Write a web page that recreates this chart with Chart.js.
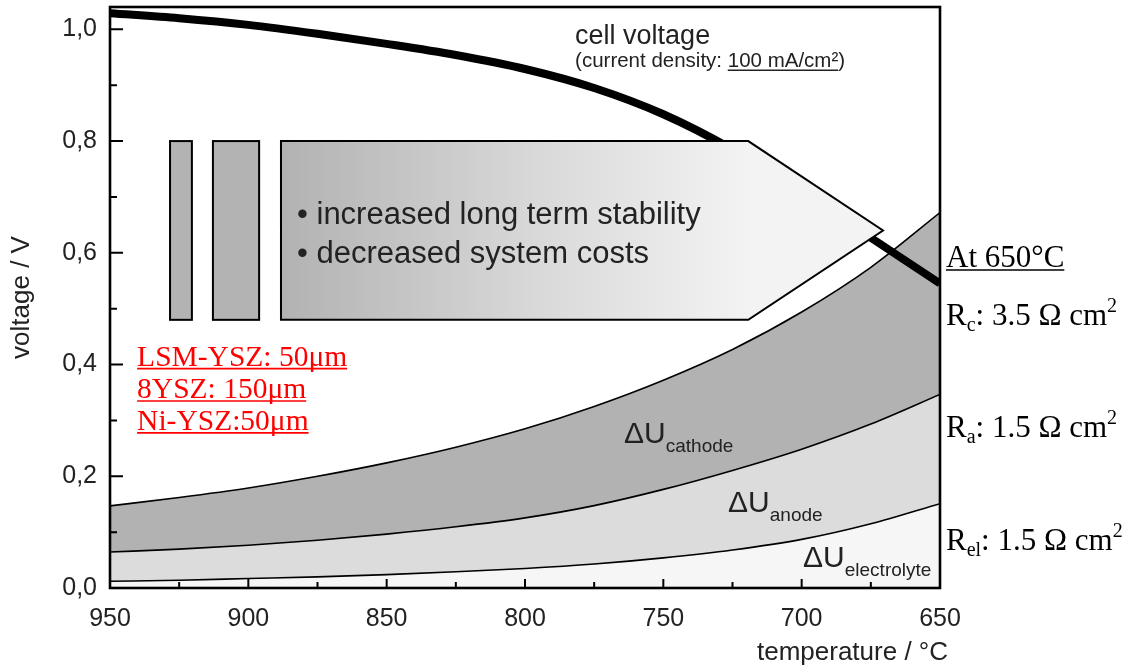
<!DOCTYPE html>
<html>
<head>
<meta charset="utf-8">
<script src="https://cdn.jsdelivr.net/npm/chart.js@4.4.1/dist/chart.umd.min.js"></script>
<style>
  html, body { margin: 0; padding: 0; background: #fff; }
  #wrap { width: 1133px; height: 668px; }
</style>
</head>
<body>
<div id="wrap"><canvas id="chart" width="1133" height="668"></canvas></div>
<script>
// --- data (temperature in °C, voltage in V) ---
const temps = [950, 925, 900, 875, 850, 825, 800, 775, 750, 725, 700, 675, 650];
const cellVoltage = [1.029, 1.020, 1.008, 0.992, 0.974, 0.954, 0.929, 0.895, 0.848, 0.785, 0.708, 0.627, 0.545];
const cathodeTop = [0.147, 0.162, 0.179, 0.200, 0.224, 0.252, 0.285, 0.325, 0.372, 0.427, 0.494, 0.574, 0.672];
const anodeTop = [0.0645, 0.0695, 0.0765, 0.0855, 0.0965, 0.1095, 0.1255, 0.1475, 0.1765, 0.2105, 0.2485, 0.2935, 0.3465];
const electrolyteTop = [0.012, 0.014, 0.017, 0.020, 0.024, 0.029, 0.035, 0.043, 0.054, 0.068, 0.087, 0.115, 0.151];

const xTicks = [950, 900, 850, 800, 750, 700, 650];
const yTicks = [0, 0.2, 0.4, 0.6, 0.8, 1.0];

const SANS = '"Liberation Sans", Arial, sans-serif';
const SERIF = '"Liberation Serif", "Times New Roman", serif';
const INK = '#222';

const toXY = (arr) => temps.map((t, i) => ({ x: t, y: arr[i] }));

// helper: data -> pixel
function px(chart, t, v) {
    return [chart.scales.x.getPixelForValue(t), chart.scales.y.getPixelForValue(v)];
}

// write a run of text pieces [text, font, dy] one after another
function richText(ctx, x, y, parts) {
    let cx = x;
    for (const [s, font, dy] of parts) {
        ctx.font = font;
        ctx.fillText(s, cx, y + (dy || 0));
        cx += ctx.measureText(s).width;
    }
    return cx;
}

function underline(ctx, x0, x1, y, w) {
    ctx.save();
    ctx.lineWidth = w || 1.5;
    ctx.strokeStyle = ctx.fillStyle;
    ctx.beginPath();
    ctx.moveTo(x0, y);
    ctx.lineTo(x1, y);
    ctx.stroke();
    ctx.restore();
}

// --- arrow "roadmap" graphic, placed in data coordinates ---
const arrowPlugin = {
    id: 'roadmapArrow',
    afterDatasetsDraw(chart) {
        const ctx = chart.ctx;
        const top = 0.8, bottom = 0.48, mid = 0.64;
        ctx.save();
        ctx.lineWidth = 2;
        ctx.strokeStyle = '#000';
        ctx.fillStyle = '#b3b3b3';
        for (const [a, b] of [[928.3, 920.4], [912.8, 896.1]]) {
            const [x0, y0] = px(chart, a, top);
            const [x1, y1] = px(chart, b, bottom);
            ctx.fillRect(x0, y0, x1 - x0, y1 - y0);
            ctx.strokeRect(x0, y0, x1 - x0, y1 - y0);
        }
        const [ax0, ay0] = px(chart, 888.2, top);
        const [ax1, ay1] = px(chart, 719.3, bottom);
        const [tx, ty] = px(chart, 670.6, mid);
        const g = ctx.createLinearGradient(ax0, 0, ax1, 0);
        g.addColorStop(0, '#b2b2b2');
        g.addColorStop(0.55, '#d9d9d9');
        g.addColorStop(1, '#f3f3f3');
        ctx.fillStyle = g;
        ctx.beginPath();
        ctx.moveTo(ax0, ay0);
        ctx.lineTo(ax1, ay0);
        ctx.lineTo(tx, ty);
        ctx.lineTo(ax1, ay1);
        ctx.lineTo(ax0, ay1);
        ctx.closePath();
        ctx.fill();
        ctx.stroke();

        ctx.fillStyle = INK;
        ctx.textBaseline = 'alphabetic';
        ctx.font = '31px ' + SANS;
        let [bx, by] = px(chart, 882.4, 0.651);
        ctx.fillText('\u2022 increased long term stability', bx, by);
        [bx, by] = px(chart, 882.4, 0.581);
        ctx.fillText('\u2022 decreased system costs', bx, by);
        ctx.restore();
    }
};

// --- frame, inward ticks and labels ---
const framePlugin = {
    id: 'frameTicks',
    afterDraw(chart) {
        const ctx = chart.ctx;
        const a = chart.chartArea;
        const x = chart.scales.x, y = chart.scales.y;
        ctx.save();
        ctx.strokeStyle = '#000';
        ctx.lineWidth = 2;
        ctx.beginPath();
        for (let t = 650; t <= 950; t += 25) {
            const p = x.getPixelForValue(t);
            const len = t % 50 === 0 ? 9 : 6;
            ctx.moveTo(p, a.bottom);
            ctx.lineTo(p, a.bottom - len);
        }
        for (let i = 0; i <= 10; i++) {
            const p = y.getPixelForValue(i / 10);
            const len = i % 2 === 0 ? 13 : 7;
            ctx.moveTo(a.left, p);
            ctx.lineTo(a.left + len, p);
        }
        ctx.stroke();
        ctx.lineWidth = 2.6;
        ctx.strokeRect(a.left, a.top, a.right - a.left, a.bottom - a.top);

        // x axis title, right side under the axis
        ctx.fillStyle = INK;
        ctx.font = '26px ' + SANS;
        ctx.textAlign = 'right';
        ctx.textBaseline = 'middle';
        ctx.fillText('temperature / \u00B0C', a.right + 8, 653);

        // annotations inside the plot
        ctx.textAlign = 'left';
        ctx.textBaseline = 'alphabetic';
        let [cx, cy] = px(chart, 781.9, 0.973);
        ctx.font = '27px ' + SANS;
        ctx.fillText('cell voltage', cx, cy);
        [cx, cy] = px(chart, 781.9, 0.932);
        ctx.font = '20.5px ' + SANS;
        const pre = '(current density: ';
        ctx.fillText(pre, cx, cy);
        const ux = cx + ctx.measureText(pre).width;
        ctx.fillText('100 mA/cm\u00B2', ux, cy);
        const uw = ctx.measureText('100 mA/cm\u00B2').width;
        ctx.fillText(')', ux + uw, cy);
        underline(ctx, ux, ux + uw, cy + 3, 1.5);

        const subLabel = (t, v, sub) => {
            const [lx, ly] = px(chart, t, v);
            richText(ctx, lx, ly, [['\u0394U', '30px ' + SANS, 0], [sub, '19px ' + SANS, 9]]);
        };
        subLabel(764.2, 0.260, 'cathode');
        subLabel(726.6, 0.136, 'anode');
        subLabel(699.5, 0.038, 'electrolyte');

        // red layer thickness notes
        ctx.fillStyle = '#ff0000';
        ctx.font = '29.5px ' + SERIF;
        [['LSM-YSZ: 50\u03BCm', 0.398], ['8YSZ: 150\u03BCm', 0.340], ['Ni-YSZ:50\u03BCm', 0.283]].forEach(([s, v]) => {
            const [rx, ry] = px(chart, 940.2, v);
            ctx.fillText(s, rx, ry);
            underline(ctx, rx, rx + ctx.measureText(s).width, ry + 3, 1.6);
        });

        // resistances at 650 °C, right of the frame
        ctx.fillStyle = '#000';
        const rx = a.right + 6;
        const big = '31px ' + SERIF, small = '20px ' + SERIF;
        ctx.font = big;
        const head = 'At 650\u00B0C';
        ctx.fillText(head, rx, 267);
        underline(ctx, rx, rx + ctx.measureText(head).width, 270, 1.6);
        richText(ctx, rx, 325, [['R', big, 0], ['c', small, 6], [': 3.5 \u03A9 cm', big, 0], ['2', small, -13]]);
        richText(ctx, rx, 437, [['R', big, 0], ['a', small, 6], [': 1.5 \u03A9 cm', big, 0], ['2', small, -13]]);
        richText(ctx, rx, 550, [['R', big, 0], ['el', small, 6], [': 1.5 \u03A9 cm', big, 0], ['2', small, -13]]);
        ctx.restore();
    }
};

const lineOpts = {
    pointRadius: 0,
    cubicInterpolationMode: 'monotone'
};

const chart = new Chart(document.getElementById('chart'), {
    type: 'line',
    data: {
        datasets: [
            { label: 'cell voltage', data: toXY(cellVoltage), borderColor: '#000', borderWidth: 8, fill: false, ...lineOpts },
            { label: 'cathode', data: toXY(cathodeTop), borderColor: '#000', borderWidth: 1.6, backgroundColor: '#b2b2b2', fill: '+1', ...lineOpts },
            { label: 'anode', data: toXY(anodeTop), borderColor: '#000', borderWidth: 1.6, backgroundColor: '#dcdcdc', fill: '+1', ...lineOpts },
            { label: 'electrolyte', data: toXY(electrolyteTop), borderColor: '#000', borderWidth: 1.6, backgroundColor: '#f6f6f6', fill: 'origin', ...lineOpts }
        ]
    },
    options: {
        responsive: false,
        animation: false,
        layout: { padding: { left: 0, right: 193, top: 7, bottom: 0 } },
        plugins: {
            legend: { display: false },
            tooltip: { enabled: false },
            filler: { drawTime: 'beforeDatasetsDraw' }
        },
        scales: {
            x: {
                type: 'linear',
                reverse: true,
                min: 650,
                max: 950,
                afterBuildTicks: (s) => { s.ticks = xTicks.map(v => ({ value: v })); },
                afterFit: (s) => { s.height = 80; s.paddingLeft = 0; s.paddingRight = 0; },
                grid: { display: false, drawTicks: false },
                border: { display: false },
                ticks: {
                    padding: 16,
                    color: INK,
                    font: { family: SANS, size: 25 },
                    maxRotation: 0,
                    callback: (v) => String(v)
                }
            },
            y: {
                min: 0,
                max: 1.04,
                afterBuildTicks: (s) => { s.ticks = yTicks.map(v => ({ value: v })); },
                afterFit: (s) => { s.width = 110; s.paddingTop = 0; s.paddingBottom = 0; },
                grid: { display: false, drawTicks: false },
                border: { display: false },
                title: {
                    display: true,
                    text: 'voltage / V',
                    color: INK,
                    font: { family: SANS, size: 26 },
                    padding: { top: 6, bottom: 0 }
                },
                ticks: {
                    padding: 13,
                    color: INK,
                    font: { family: SANS, size: 25 },
                    callback: (v) => v.toFixed(1).replace('.', ',')
                }
            }
        }
    },
    plugins: [arrowPlugin, framePlugin]
});
</script>
</body>
</html>
